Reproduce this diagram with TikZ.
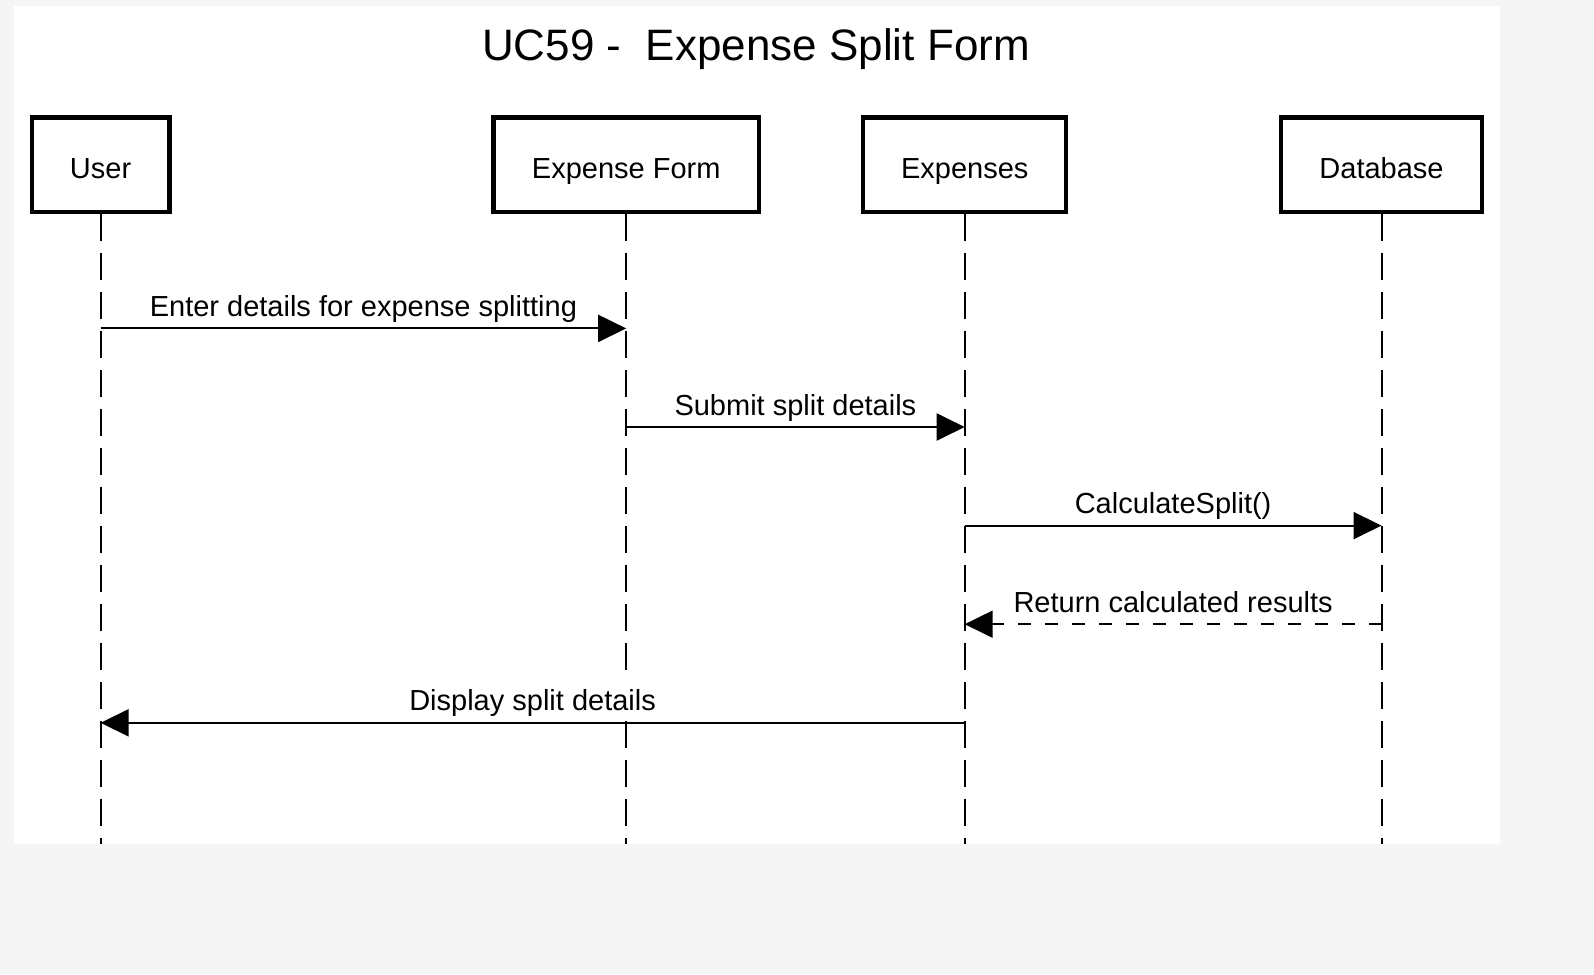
\documentclass[tikz,border=0pt]{standalone}
\usepackage{fontspec}
\setmainfont{Liberation Sans}
\usetikzlibrary{arrows.meta}

\tikzset{
  actor/.style={draw=black, line width=4.2pt, fill=white, minimum height=94.5pt,
    inner sep=0pt, text height=27.5pt, text depth=0pt,
    font=\fontsize{29}{34}\selectfont},
  lifeline/.style={draw=black, line width=2pt, dash pattern=on 27pt off 12pt},
  msg/.style={draw=black, line width=2pt, -{Triangle[length=28pt,width=27pt]}},
  reply/.style={msg, dash pattern=on 13pt off 14pt},
  msglabel/.style={anchor=base, inner sep=0pt, text depth=10pt,
    font=\fontsize{29}{34}\selectfont},
}

\begin{document}
\begin{tikzpicture}[x=1pt, y=-1pt]
  % page and sheet
  \useasboundingbox (0,0) rectangle (1594,974);
  \fill[color={rgb,255:red,245;green,245;blue,245}] (0,0) rectangle (1594,974);
  \fill[white] (14,6) rectangle (1500,844);
  \coordinate (bottom) at (0,844);

  % title
  \node[anchor=base, inner sep=0pt, font=\fontsize{44}{52}\selectfont] (title)
    at (756,60.5) {UC59 -\ \ Expense Split Form};

  % participants
  \node[actor, minimum width=137.8pt] (user)  at (100.6,164.75) {User};
  \node[actor, minimum width=265.5pt] (eform) at (626.2,164.75) {Expense Form};
  \node[actor, minimum width=203pt]   (exp)   at (964.7,164.75) {Expenses};
  \node[actor, minimum width=201pt]   (db)    at (1381.5,164.75) {Database};

  % lifelines
  \draw[lifeline] (user.south)  -- (user.south |- bottom);
  \draw[lifeline] (eform.south) -- (eform.south |- bottom);
  \draw[lifeline] (exp.south)   -- (exp.south |- bottom);
  \draw[lifeline] (db.south)    -- (db.south |- bottom);

  % message labels, with a white ground that masks the lifelines
  \fill[white] (300,670) rectangle (770,718);
  \node[msglabel] (l1) at (363.4,316.4) {Enter details for expense splitting};
  \node[msglabel] (l2) at (795.4,415) {Submit split details};
  \node[msglabel] (l3) at (1173.1,513.6) {CalculateSplit()};
  \node[msglabel] (l4) at (1173.1,612.2) {Return calculated results};
  \node[msglabel] (l5) at (532.6,710.8) {Display split details};

  % messages
  \draw[msg]   (user.south |- 0,328.4)  -- (eform.south |- 0,328.4);
  \draw[msg]   (eform.south |- 0,427)   -- (exp.south |- 0,427);
  \draw[msg]   (exp.south |- 0,525.6)   -- (db.south |- 0,525.6);
  \draw[reply] (db.south |- 0,624.2)    -- (exp.south |- 0,624.2);
  \draw[msg]   (exp.south |- 0,722.8)   -- (user.south |- 0,722.8);
\end{tikzpicture}
\end{document}
